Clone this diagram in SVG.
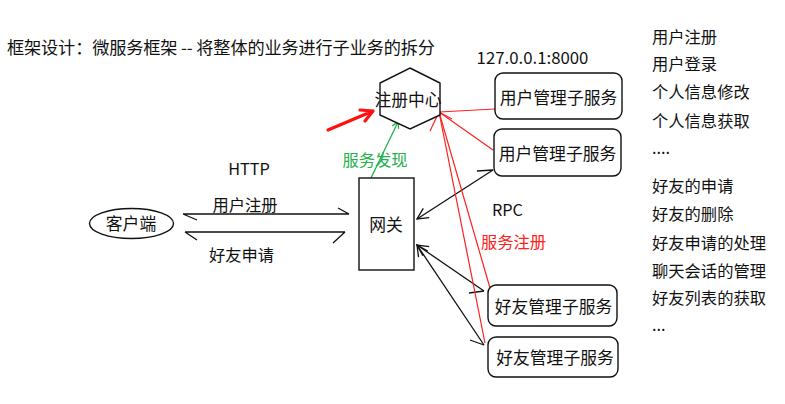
<svg xmlns="http://www.w3.org/2000/svg" width="785" height="404" viewBox="0 0 785 404">
<style>
  text { font-family: "Noto Sans CJK SC", "Microsoft YaHei", sans-serif; fill: #111; }
  .t18 { font-size: 17.2px; }
  .t17 { font-size: 16.8px; }
  .t16 { font-size: 16.3px; }
  .mid { text-anchor: middle; }
  .shape { fill: #fff; stroke: #111; stroke-width: 1.4; }
  .ln { fill: none; stroke: #111; stroke-width: 1.3; }
  .red { fill: none; stroke: #ff2020; stroke-width: 1.2; }
  .grn { fill: none; stroke: #22b14c; stroke-width: 1.3; }
</style>
<defs>
  <marker id="arrB" viewBox="-12 -7 14 14" markerWidth="14" markerHeight="14" refX="0" refY="0" orient="auto" markerUnits="userSpaceOnUse">
    <path d="M-11,-5.5 L0,0 L-11,5.5" fill="none" stroke="#111" stroke-width="1.3"/>
  </marker>
  <marker id="arrG" viewBox="-8 -5 10 10" markerWidth="10" markerHeight="10" refX="0" refY="0" orient="auto" markerUnits="userSpaceOnUse">
    <path d="M-6,-3.5 L0,0 L-6,3.5" fill="none" stroke="#22b14c" stroke-width="1.3"/>
  </marker>
</defs>
<rect width="785" height="404" fill="#fff"/>

<g id="title">
  <text class="t18" x="7" y="54" textLength="428" lengthAdjust="spacing">框架设计：微服务框架 -- 将整体的业务进行子业务的拆分</text>
</g>

<g id="connectors">
  <!-- HTTP double lines -->
  <path class="ln" d="M183,214 L349,214 M183,214 L197,220 M338,208 L349,214"/>
  <path class="ln" d="M185,232 L345,232 M185,232 L197,240 M345,232 L333,243"/>
  <!-- RPC gateway lines -->
  <path class="ln" d="M493,170 L417,219" marker-end="url(#arrB)"/>
  <path class="ln" d="M477,171 L493,170"/>
  <path class="ln" d="M484,291 L417,245" marker-end="url(#arrB)"/>
  <path class="ln" d="M469,293 L484,291"/>
  <path class="ln" d="M484,345 L417,245" marker-end="url(#arrB)"/>
  <path class="ln" d="M470,340 L484,345"/>
  <!-- service discovery -->
  <path class="grn" d="M371,178 L398,122" marker-end="url(#arrG)"/>
  <!-- thick red pointer -->
  <path d="M328,130 L373,111 M360,110 L373,111 L365,121" fill="none" stroke="#ff1010" stroke-width="3.2" stroke-linecap="round" stroke-linejoin="round"/>
  <!-- service registration -->
  <path class="red" d="M495,109 L439,112"/>
  <path class="red" d="M493,150 L439,112"/>
  <path class="red" d="M490,288 L439,112"/>
  <path class="red" d="M485,343 L439,112"/>
  <path class="red" d="M430,131 L439,112 L452,119"/>
</g>

<g id="registry">
  <polygon class="shape" points="410,68 440,83 440,115 410,129 380,115 380,83"/>
  <text class="t17 mid" x="408" y="106">注册中心</text>
</g>

<g id="gateway">
  <rect class="shape" x="359" y="178" width="55" height="92"/>
  <text class="t17 mid" x="386" y="231">网关</text>
</g>

<g id="client">
  <ellipse class="shape" cx="131.5" cy="223.5" rx="42" ry="15"/>
  <text class="t17 mid" x="131" y="230">客户端</text>
</g>

<g id="user-service-1">
  <rect class="shape" x="495" y="73" width="127" height="46" rx="8"/>
  <text class="t17 mid" x="558.5" y="104">用户管理子服务</text>
</g>
<g id="user-service-2">
  <rect class="shape" x="494" y="129" width="127" height="47" rx="8"/>
  <text class="t17 mid" x="557.5" y="160">用户管理子服务</text>
</g>
<g id="friend-service-1">
  <rect class="shape" x="488" y="285" width="129" height="41" rx="8"/>
  <text class="t17 mid" x="553.5" y="312.5">好友管理子服务</text>
</g>
<g id="friend-service-2">
  <rect class="shape" x="488" y="337" width="130" height="40" rx="8"/>
  <text class="t17 mid" x="555" y="363.5">好友管理子服务</text>
</g>

<g id="labels">
  <text class="mid" style="font-size:16.8px" x="532.5" y="63.5">127.0.0.1:8000</text>
  <text class="t16 mid" x="249" y="175">HTTP</text>
  <text class="t16 mid" x="245" y="211">用户注册</text>
  <text class="t16 mid" x="241.5" y="261">好友申请</text>
  <text class="t16 mid" x="375" y="166" style="fill:#22b14c">服务发现</text>
  <text class="t16 mid" x="507.5" y="216">RPC</text>
  <text class="t16 mid" x="513.5" y="248" style="fill:#ff2020">服务注册</text>
</g>

<g id="feature-list">
  <text class="t16" x="652" y="43">用户注册</text>
  <text class="t16" x="652" y="70">用户登录</text>
  <text class="t16" x="652" y="98">个人信息修改</text>
  <text class="t16" x="652" y="126.5">个人信息获取</text>
  <text class="t16" x="652" y="154">....</text>
  <text class="t16" x="652" y="192">好友的申请</text>
  <text class="t16" x="652" y="219.5">好友的删除</text>
  <text class="t16" x="652" y="248.5">好友申请的处理</text>
  <text class="t16" x="652" y="276.5">聊天会话的管理</text>
  <text class="t16" x="652" y="303.5">好友列表的获取</text>
  <text class="t16" x="652" y="331">...</text>
</g>
</svg>
